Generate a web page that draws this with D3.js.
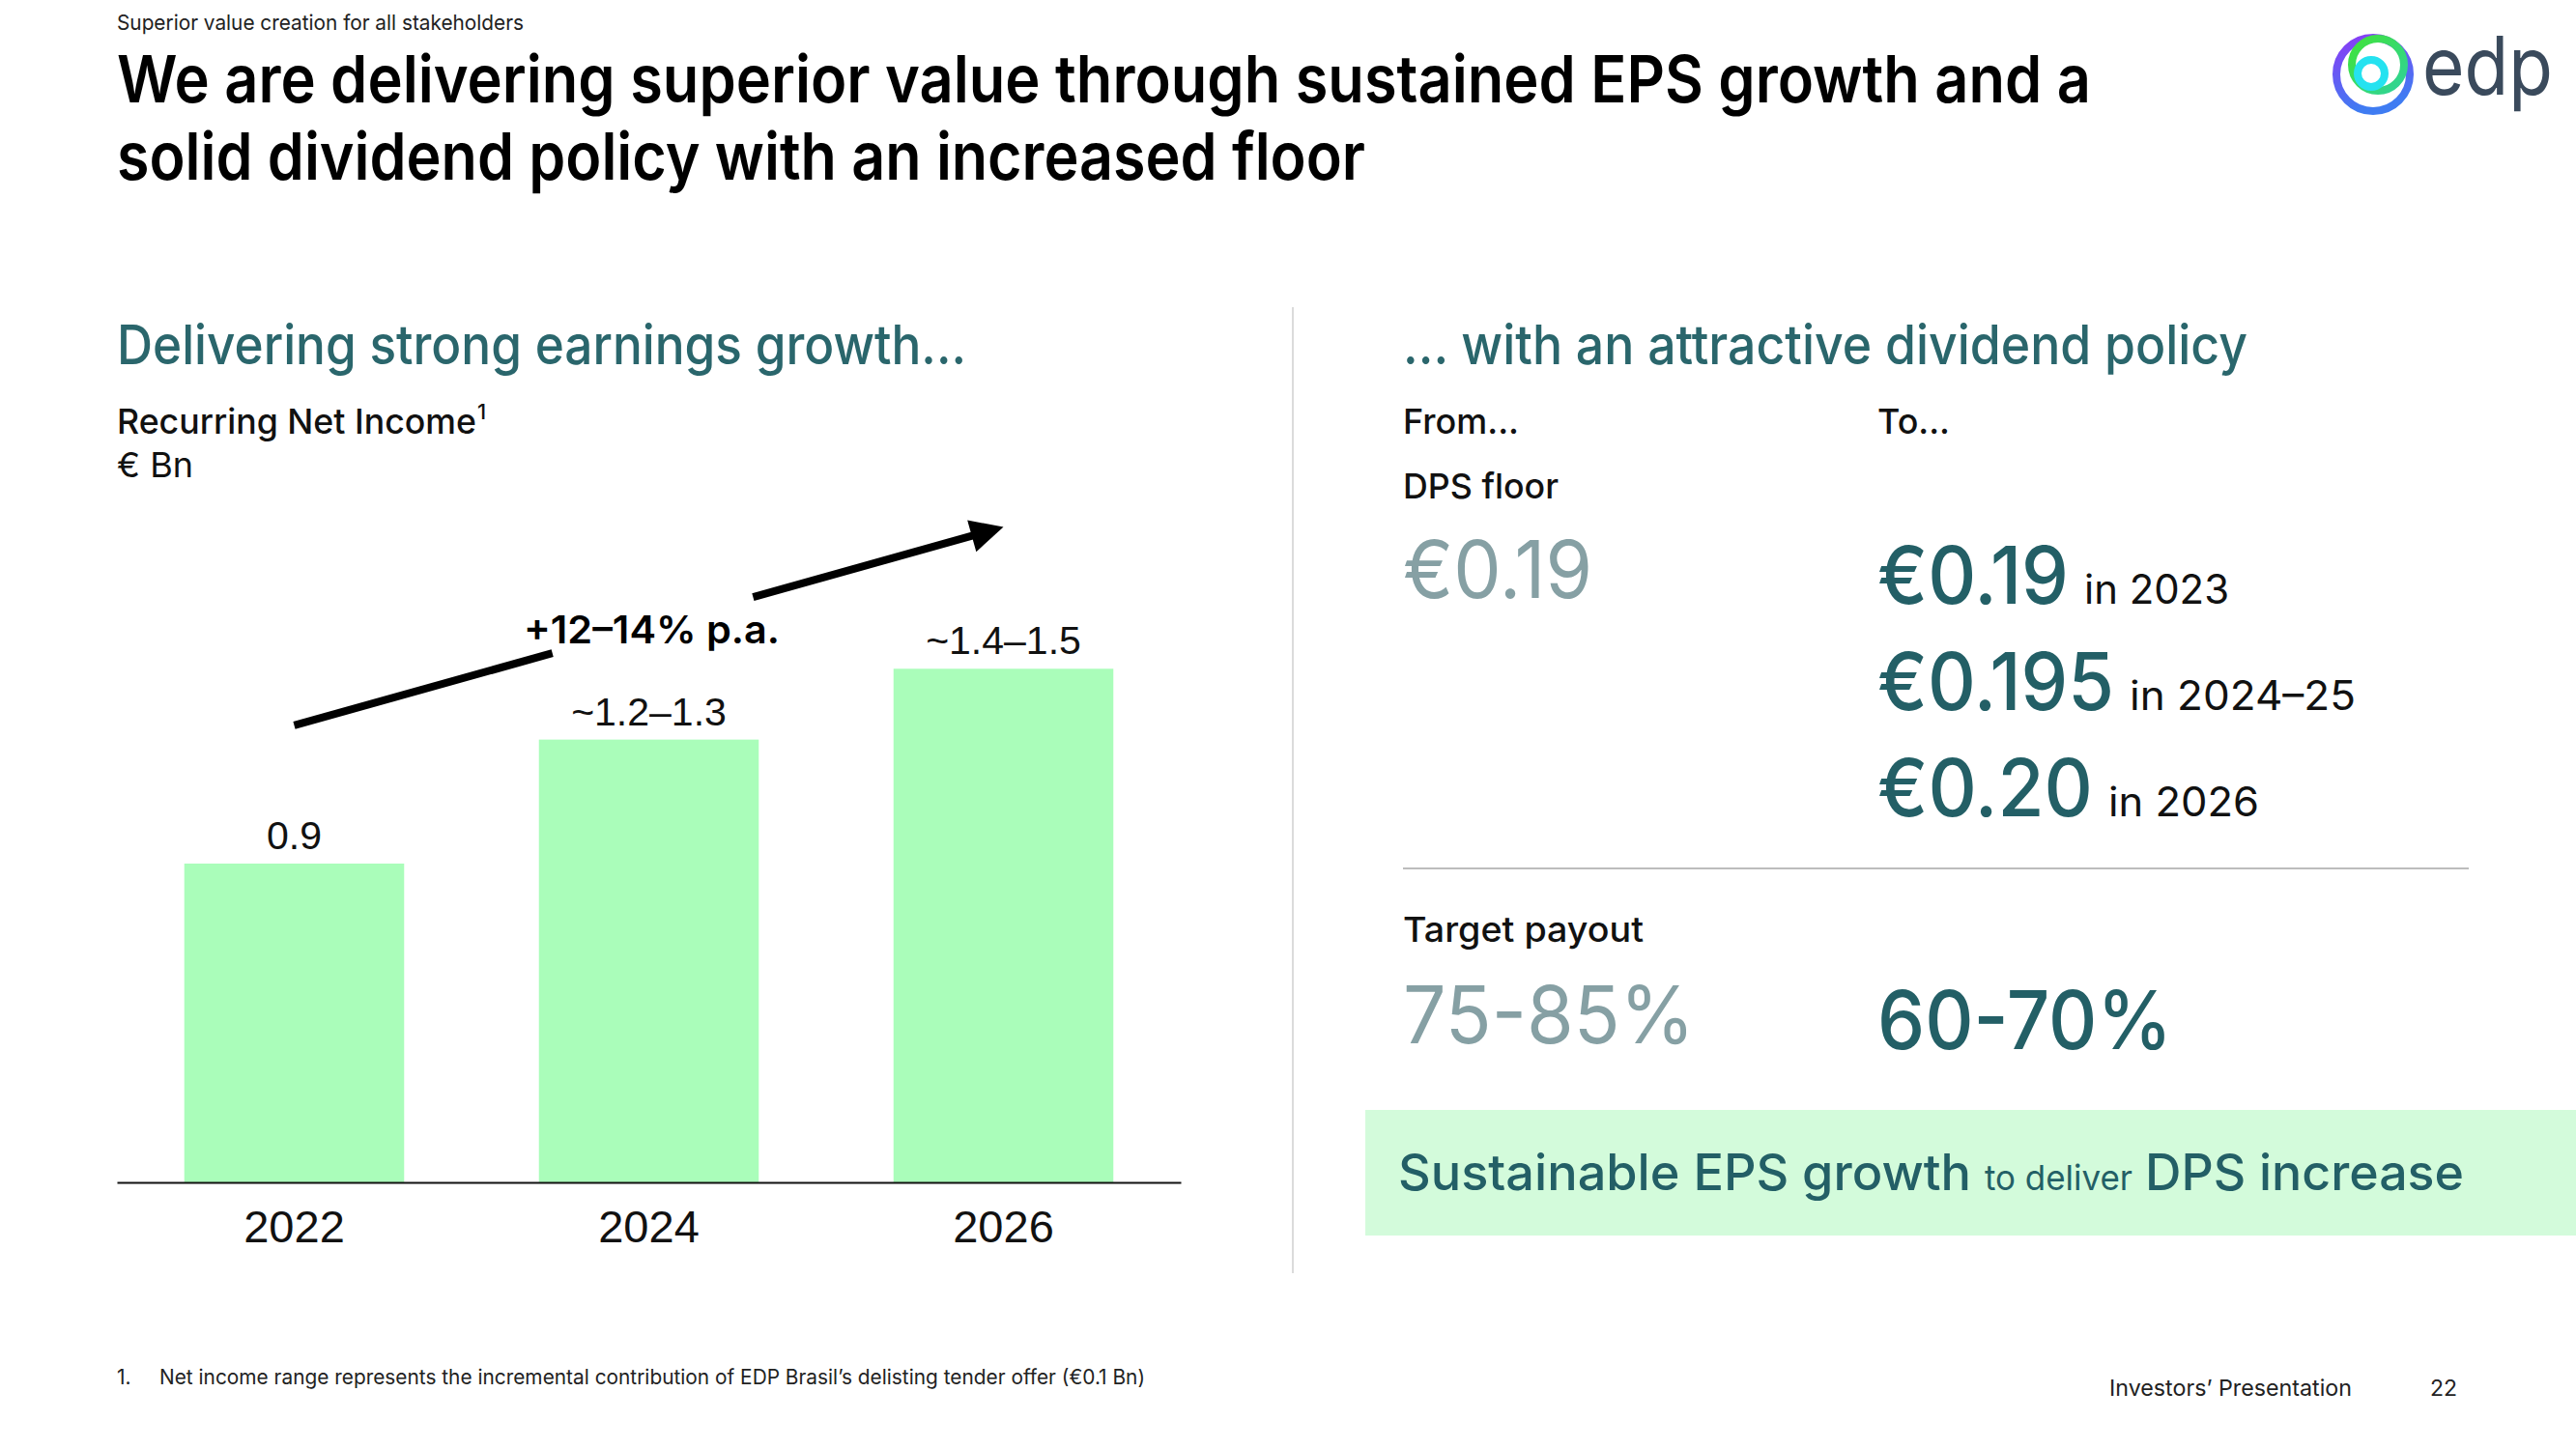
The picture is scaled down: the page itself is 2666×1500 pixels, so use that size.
<!DOCTYPE html>
<html><head><meta charset="utf-8">
<script src="https://cdn.jsdelivr.net/npm/d3@7"></script>
<style>
html,body{margin:0;padding:0;background:#fff;}
svg{display:block;}
</style></head><body>
<script>
// ---------- data ----------
const years = ["2022", "2024", "2026"];
const netIncome = [0.9, 1.25, 1.45];
const netIncomeLabels = ["0.9", "~1.2–1.3", "~1.4–1.5"];
const growthLabel = "+12–14% p.a.";
const growthArrowYears = ["2022", "2026"];
const growthArrowValues = [1.29, 1.85];

const dpsFloorFrom = "€0.19";
const dpsTo = ["€0.19", "€0.195", "€0.20"];
const dpsToPeriods = ["in 2023", "in 2024–25", "in 2026"];
const payoutFrom = "75-85%";
const payoutTo = "60-70%";

// ---------- setup ----------
const W = 2666, H = 1500;
const svg = d3.select("body").append("svg").attr("width", W).attr("height", H);
const SANS = "Inter, 'Noto Sans', sans-serif";
const NUM = "'Liberation Sans', Arial, sans-serif";
const TEAL = "#235f66", TEAL_H = "#2a666c", GRAY = "#86a0a4", INK = "#111";

function txt(g, x, y, s, o = {}) {
  const t = g.append("text").attr("x", x).attr("y", y).text(s)
    .attr("font-family", o.family || SANS)
    .attr("font-size", o.size || 36)
    .attr("font-weight", o.weight || 400)
    .attr("fill", o.fill || INK)
    .attr("text-anchor", o.anchor || "start");
  if (o.len) t.attr("textLength", o.len).attr("lengthAdjust", o.adjust || "spacingAndGlyphs");
  return t;
}

// ---------- header ----------
txt(svg, 121, 31, "Superior value creation for all stakeholders", {size: 22, fill: "#222", len: 421});
txt(svg, 121, 106, "We are delivering superior value through sustained EPS growth and a", {size: 68, weight: 600, fill: "#000", len: 2043});
txt(svg, 121, 186, "solid dividend policy with an increased floor", {size: 68, weight: 600, fill: "#000", len: 1292});

// logo
const defs = svg.append("defs");
const gP = defs.append("linearGradient").attr("id", "gP").attr("x1", 0).attr("y1", 0).attr("x2", 0.3).attr("y2", 1);
gP.append("stop").attr("offset", 0).attr("stop-color", "#8a3cf5");
gP.append("stop").attr("offset", 1).attr("stop-color", "#3f7cf2");
const gG = defs.append("linearGradient").attr("id", "gG").attr("x1", 0).attr("y1", 0).attr("x2", 1).attr("y2", 1);
gG.append("stop").attr("offset", 0).attr("stop-color", "#41e23a");
gG.append("stop").attr("offset", 1).attr("stop-color", "#2fd39a");
const logo = svg.append("g");
logo.append("circle").attr("cx", 2456).attr("cy", 77).attr("r", 38).attr("fill", "none").attr("stroke", "url(#gP)").attr("stroke-width", 8);
logo.append("circle").attr("cx", 2461).attr("cy", 67).attr("r", 27).attr("fill", "none").attr("stroke", "url(#gG)").attr("stroke-width", 8);
logo.append("circle").attr("cx", 2454).attr("cy", 76).attr("r", 14).attr("fill", "none").attr("stroke", "#25e2f0").attr("stroke-width", 8);
txt(logo, 2507, 98, "edp", {size: 84, fill: "#3a4a5c", len: 135});

// ---------- left panel ----------
txt(svg, 121, 377, "Delivering strong earnings growth...", {size: 56, weight: 500, fill: TEAL_H, len: 879});
txt(svg, 121, 449, "Recurring Net Income", {size: 36, weight: 500, len: 372});
txt(svg, 494, 434, "1", {size: 22, weight: 500});
txt(svg, 121, 494, "€ Bn", {size: 36, len: 79});

const x = d3.scaleBand().domain(years).range([121, 1222]).paddingInner(0.38).paddingOuter(0.19);
const y = d3.scaleLinear().domain([0, 1.9]).range([1224, 1224 - 1.9 * 366.7]);

const chart = svg.append("g");
chart.selectAll("rect.bar").data(years).join("rect").attr("class", "bar")
  .attr("x", d => x(d)).attr("width", x.bandwidth())
  .attr("y", (d, i) => y(netIncome[i])).attr("height", (d, i) => y(0) - y(netIncome[i]))
  .attr("fill", "#aafdba");

chart.selectAll("text.val").data(years).join("text").attr("class", "val")
  .attr("x", d => x(d) + x.bandwidth() / 2)
  .attr("y", (d, i) => y(netIncome[i]) - 15)
  .attr("text-anchor", "middle").attr("font-family", NUM).attr("font-size", 41).attr("fill", INK)
  .text((d, i) => netIncomeLabels[i]);

const axis = chart.append("g").attr("transform", `translate(0,${y(0)})`)
  .call(d3.axisBottom(x).tickSize(0).tickPadding(29));
axis.select(".domain").attr("stroke", "#111").attr("stroke-width", 2);
axis.selectAll("text").attr("font-family", NUM).attr("font-size", 47).attr("fill", INK);

// growth arrow
const p0 = [x(growthArrowYears[0]) + x.bandwidth() / 2, y(growthArrowValues[0])];
const p1 = [x(growthArrowYears[1]) + x.bandwidth() / 2, y(growthArrowValues[1])];
const lerp = t => [p0[0] + (p1[0] - p0[0]) * t, p0[1] + (p1[1] - p0[1]) * t];
const L = Math.hypot(p1[0] - p0[0], p1[1] - p0[1]);
const headLen = 34, headW = 17;
const ux = (p1[0] - p0[0]) / L, uy = (p1[1] - p0[1]) / L;
const segs = [[0, 0.364], [0.647, 1 - (headLen - 4) / L]];
const line = d3.line();
segs.forEach(([a, b]) => {
  chart.append("path").attr("d", line([lerp(a), lerp(b)])).attr("stroke", "#000").attr("stroke-width", 8).attr("fill", "none");
});
const base = [p1[0] - ux * headLen, p1[1] - uy * headLen];
chart.append("path").attr("d", line([p1, [base[0] - uy * headW, base[1] + ux * headW], [base[0] + uy * headW, base[1] - ux * headW]]) + "Z").attr("fill", "#000");
const mid = lerp(0.5);
txt(chart, mid[0] + 3, mid[1] + 18, growthLabel, {size: 40, weight: 600, anchor: "middle", fill: "#000", len: 265});

// divider
svg.append("line").attr("x1", 1338).attr("x2", 1338).attr("y1", 318).attr("y2", 1318).attr("stroke", "#cfcfcf").attr("stroke-width", 1.5);

// ---------- right panel ----------
const cA = 1452, cB = 1943;
txt(svg, cA, 377, "... with an attractive dividend policy", {size: 56, weight: 500, fill: TEAL_H, len: 874});
txt(svg, cA, 449, "From...", {size: 36, weight: 500, len: 120});
txt(svg, cB, 449, "To...", {size: 36, weight: 500, len: 75});
txt(svg, cA, 516, "DPS floor", {size: 36, weight: 500, len: 161});
txt(svg, cA, 619, dpsFloorFrom, {size: 82, fill: GRAY, len: 196});

const dpsBase = [625, 735, 845], dpsLen = [198, 245, 223], periodLen = [150, 234, 156];
dpsTo.forEach((v, i) => {
  txt(svg, cB, dpsBase[i], v, {size: 82, weight: 500, fill: TEAL, len: dpsLen[i]});
  txt(svg, cB + dpsLen[i] + 16, dpsBase[i], dpsToPeriods[i], {size: 42, fill: INK, len: periodLen[i]});
});

svg.append("line").attr("x1", cA).attr("x2", 2555).attr("y1", 899).attr("y2", 899).attr("stroke", "#bdbdbd").attr("stroke-width", 2);
txt(svg, cA, 975, "Target payout", {size: 36, weight: 500, len: 249});
txt(svg, cA, 1080, payoutFrom, {size: 82, fill: GRAY, len: 302});
txt(svg, cB, 1086, payoutTo, {size: 84, weight: 500, fill: TEAL, len: 305});

svg.append("rect").attr("x", 1413).attr("y", 1149).attr("width", W - 1413).attr("height", 130).attr("fill", "#d3fbdb");
txt(svg, 1447, 1232, "Sustainable EPS growth", {size: 52, weight: 500, fill: TEAL, len: 593});
txt(svg, 2054, 1232, "to deliver", {size: 36, fill: TEAL, len: 153});
txt(svg, 2220, 1232, "DPS increase", {size: 52, weight: 500, fill: TEAL, len: 330});

// ---------- footer ----------
txt(svg, 121, 1433, "1.", {size: 21, fill: "#222"});
txt(svg, 165, 1433, "Net income range represents the incremental contribution of EDP Brasil’s delisting tender offer (€0.1 Bn)", {size: 21, fill: "#222", len: 1020});
txt(svg, 2183, 1445, "Investors’ Presentation", {size: 23, fill: "#222", len: 251});
txt(svg, 2515, 1445, "22", {size: 23, fill: "#222"});
</script>
</body></html>
